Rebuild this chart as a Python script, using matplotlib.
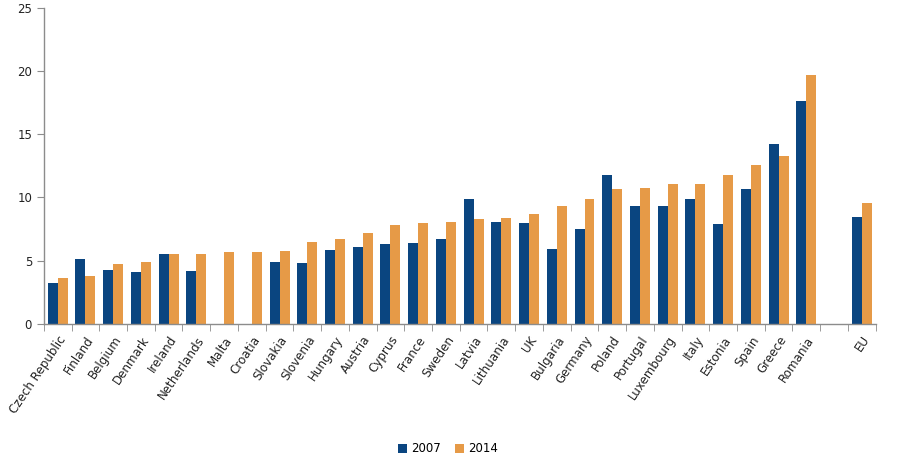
import numpy as np
import matplotlib.pyplot as plt

# data
countries = ["Czech Republic", "Finland", "Belgium", "Denmark", "Ireland", "Netherlands",
             "Malta", "Croatia", "Slovakia", "Slovenia", "Hungary", "Austria", "Cyprus",
             "France", "Sweden", "Latvia", "Lithuania", "UK", "Bulgaria", "Germany",
             "Poland", "Portugal", "Luxembourg", "Italy", "Estonia", "Spain", "Greece",
             "Romania", "", "EU"]
y2007 = [3.2, 5.1, 4.3, 4.1, 5.5, 4.2, np.nan, np.nan, 4.9, 4.8, 5.85, 6.1, 6.3,
         6.4, 6.7, 9.9, 8.1, 7.95, 5.9, 7.5, 11.75, 9.3, 9.3, 9.9, 7.9, 10.7, 14.2,
         17.6, np.nan, 8.45]
y2014 = [3.6, 3.75, 4.7, 4.9, 5.5, 5.5, 5.7, 5.7, 5.75, 6.45, 6.75, 7.2, 7.8,
         8.0, 8.1, 8.3, 8.4, 8.7, 9.3, 9.9, 10.7, 10.75, 11.1, 11.1, 11.8, 12.6, 13.25,
         19.7, np.nan, 9.6]
series_labels = ["2007", "2014"]

BLUE = "#0a4580"
ORANGE = "#e69a47"
GREY = "#8c8c8c"

fig = plt.figure(figsize=(9.14, 4.66), dpi=100)
ax = fig.add_axes([0.048, 0.305, 0.910, 0.678])

x = np.arange(len(countries))
w = 0.36
ax.bar(x - w / 2, y2007, width=w, color=BLUE, label=series_labels[0])
ax.bar(x + w / 2, y2014, width=w, color=ORANGE, label=series_labels[1])

ax.set_xlim(-0.5, len(countries) - 0.5)
ax.set_ylim(0, 25)
ax.set_yticks([0, 5, 10, 15, 20, 25])

# labels at category centres, tick marks at the boundaries
ax.set_xticks(x)
ax.set_xticklabels(countries, rotation=56, ha="right", rotation_mode="anchor",
                   fontsize=8.6, color="#222222")
ax.tick_params(axis="x", which="major", length=0, pad=7)
ax.set_xticks(np.arange(-0.5, len(countries) + 0.5, 1), minor=True)
ax.tick_params(axis="x", which="minor", length=5, color=GREY, direction="out")
ax.tick_params(axis="y", length=5, color=GREY, labelsize=8.5, labelcolor="#222222")

for side in ["top", "right"]:
    ax.spines[side].set_visible(False)
for side in ["left", "bottom"]:
    ax.spines[side].set_color(GREY)
    ax.spines[side].set_linewidth(1.0)

fig.legend(loc="lower center", bbox_to_anchor=(0.49, 0.0), ncol=2, frameon=False,
           fontsize=8.5, handlelength=0.8, handleheight=0.8, handletextpad=0.3,
           columnspacing=1.2)

fig.savefig("out.png", dpi=100)
